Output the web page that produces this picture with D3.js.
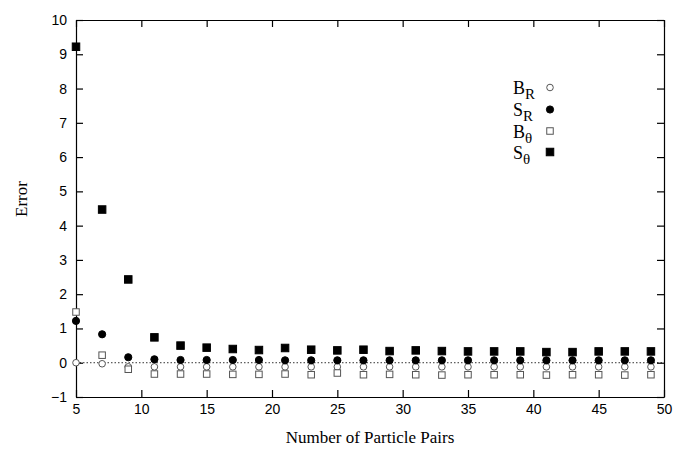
<!DOCTYPE html>
<html><head><meta charset="utf-8">
<script src="https://cdn.jsdelivr.net/npm/d3@7"></script>
<style>body{margin:0;background:#fff}svg{display:block}</style>
</head><body>
<script>
const particlePairs = [5,7,9,11,13,15,17,19,21,23,25,27,29,31,33,35,37,39,41,43,45,47,49];
const B_R = [0.00,-0.03,-0.12,-0.12,-0.12,-0.12,-0.12,-0.12,-0.12,-0.12,-0.12,-0.12,-0.12,-0.12,-0.12,-0.12,-0.12,-0.12,-0.12,-0.12,-0.12,-0.12,-0.12];
const S_R = [1.22,0.83,0.16,0.10,0.08,0.08,0.08,0.08,0.07,0.07,0.07,0.07,0.07,0.07,0.07,0.07,0.07,0.07,0.07,0.07,0.07,0.07,0.07];
const B_T = [1.48,0.22,-0.19,-0.33,-0.33,-0.33,-0.34,-0.34,-0.33,-0.35,-0.30,-0.35,-0.34,-0.35,-0.36,-0.35,-0.35,-0.35,-0.36,-0.35,-0.35,-0.36,-0.35];
const S_T = [9.22,4.47,2.43,0.74,0.50,0.44,0.40,0.37,0.43,0.38,0.36,0.38,0.34,0.36,0.34,0.33,0.33,0.33,0.31,0.31,0.33,0.33,0.33];
const xTicks = [5,10,15,20,25,30,35,40,45,50];
const yTicks = [-1,0,1,2,3,4,5,6,7,8,9,10];
const seriesList = [
  {base:"B", sub:"R", values:B_R, shape:"circle", fill:false},
  {base:"S", sub:"R", values:S_R, shape:"circle", fill:true},
  {base:"B", sub:"θ", values:B_T, shape:"square", fill:false},
  {base:"S", sub:"θ", values:S_T, shape:"square", fill:true}
];

const W=675,H=461;
const L=76,R=664,T=20,B=397;
const svg=d3.select("body").append("svg").attr("width",W).attr("height",H);
const x=d3.scaleLinear().domain([5,50]).range([L,R]);
const y=d3.scaleLinear().domain([-1,10]).range([B,T]);

// zero line
svg.append("line").attr("x1",L).attr("x2",R).attr("y1",y(0)).attr("y2",y(0))
  .attr("stroke","#333").attr("stroke-width",1).attr("stroke-dasharray","1.5,2");

const sans="'Liberation Sans', Arial, Helvetica, sans-serif";
const serif="'Liberation Serif', 'Times New Roman', serif";

// axes (gnuplot style ticks inward + mirror)
const axB=svg.append("g").attr("transform",`translate(0,${B})`)
  .call(d3.axisBottom(x).tickValues(xTicks).tickSizeInner(-7).tickSizeOuter(0).tickPadding(7));
const axT=svg.append("g").attr("transform",`translate(0,${T})`)
  .call(d3.axisTop(x).tickValues(xTicks).tickSizeInner(-7).tickSizeOuter(0).tickFormat(""));
const axL=svg.append("g").attr("transform",`translate(${L},0)`)
  .call(d3.axisLeft(y).tickValues(yTicks).tickSizeInner(-7).tickSizeOuter(0).tickPadding(9));
const axR=svg.append("g").attr("transform",`translate(${R},0)`)
  .call(d3.axisRight(y).tickValues(yTicks).tickSizeInner(-7).tickSizeOuter(0).tickFormat(""));
[axB,axT,axL,axR].forEach(g=>{
  g.selectAll("path").attr("stroke","#000").attr("stroke-width",1.2);
  g.selectAll("line").attr("stroke","#000").attr("stroke-width",1.2);
  g.selectAll("text").attr("font-family",sans).attr("font-size",14).attr("fill","#000");
});

// markers
function drawMarker(g,shape,fill,cx,cy){
  if(shape==="circle"){
    g.append("circle").attr("cx",cx).attr("cy",cy).attr("r",fill?3.6:3.3)
      .attr("fill",fill?"#000":"#fff").attr("stroke",fill?"#000":"#555").attr("stroke-width",1);
  } else {
    const s=fill?7.5:6.5;
    g.append("rect").attr("x",cx-s/2).attr("y",cy-s/2).attr("width",s).attr("height",s)
      .attr("fill",fill?"#000":"#fff").attr("stroke",fill?"#000":"#555").attr("stroke-width",1);
  }
}
const pts=svg.append("g");
seriesList.forEach(s=>{
  const g=pts.append("g");
  s.values.forEach((v,i)=>drawMarker(g,s.shape,s.fill,x(particlePairs[i]),y(v)));
});

// legend
const legY=[87.5,109.5,131,152];
seriesList.forEach((s,i)=>{
  const t=svg.append("text").attr("x",513).attr("y",legY[i]+6.5)
    .attr("font-family",serif).attr("font-size",18).attr("fill","#000");
  t.append("tspan").text(s.base);
  t.append("tspan").attr("dy",5).attr("font-size",15).text(s.sub);
  drawMarker(svg,s.shape,s.fill,550,legY[i]);
});

// axis titles
svg.append("text").attr("x",370).attr("y",443).attr("text-anchor","middle")
  .attr("font-family",serif).attr("font-size",17).text("Number of Particle Pairs");
svg.append("text").attr("transform","translate(27,199) rotate(-90)").attr("text-anchor","middle")
  .attr("font-family",serif).attr("font-size",17).text("Error");
</script>
</body></html>
